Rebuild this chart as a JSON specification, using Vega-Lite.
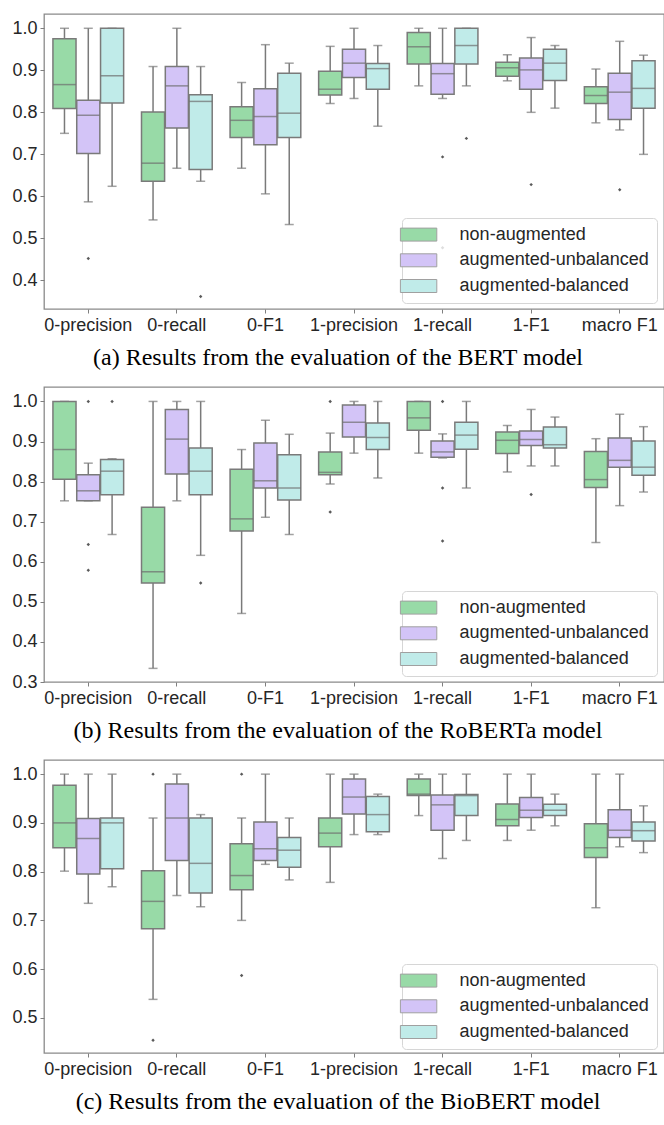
{
  "$schema": "https://vega.github.io/schema/vega-lite/v6.json",
  "padding": {"left": 11, "top": 13, "right": 0, "bottom": 0},
  "spacing": 15,
  "config": {
    "axis": {"labelFont": "Liberation Sans", "labelFontSize": 18, "labelColor": "#262626", "tickColor": "#7f7f7f", "tickSize": 4, "tickWidth": 1, "domain": false, "grid": false, "labelPadding": 3},
    "axisY": {"format": ".1f"},
    "view": {"stroke": "#8a8a8a", "strokeWidth": 1.3},
    "title": {"font": "Liberation Serif", "fontSize": 24, "fontWeight": "normal", "color": "#000000", "orient": "bottom", "offset": 12, "frame": "bounds", "anchor": "middle"}
  },
  "resolve": {"legend": {"fill": "independent"}, "scale": {"y": "independent"}},
  "datasets": {
    "boxes": [
      {"model": "BERT", "metric": "0-precision", "group": "non-augmented", "lo": 0.75, "q1": 0.809, "med": 0.866, "q3": 0.975, "hi": 1.0},
      {"model": "BERT", "metric": "0-precision", "group": "augmented-unbalanced", "lo": 0.587, "q1": 0.702, "med": 0.793, "q3": 0.829, "hi": 1.0},
      {"model": "BERT", "metric": "0-precision", "group": "augmented-balanced", "lo": 0.624, "q1": 0.822, "med": 0.887, "q3": 1.0, "hi": 1.0},
      {"model": "BERT", "metric": "0-recall", "group": "non-augmented", "lo": 0.544, "q1": 0.636, "med": 0.679, "q3": 0.801, "hi": 0.909},
      {"model": "BERT", "metric": "0-recall", "group": "augmented-unbalanced", "lo": 0.667, "q1": 0.763, "med": 0.863, "q3": 0.909, "hi": 1.0},
      {"model": "BERT", "metric": "0-recall", "group": "augmented-balanced", "lo": 0.636, "q1": 0.664, "med": 0.826, "q3": 0.842, "hi": 0.909},
      {"model": "BERT", "metric": "0-F1", "group": "non-augmented", "lo": 0.667, "q1": 0.74, "med": 0.781, "q3": 0.813, "hi": 0.871},
      {"model": "BERT", "metric": "0-F1", "group": "augmented-unbalanced", "lo": 0.606, "q1": 0.723, "med": 0.79, "q3": 0.856, "hi": 0.961},
      {"model": "BERT", "metric": "0-F1", "group": "augmented-balanced", "lo": 0.533, "q1": 0.74, "med": 0.798, "q3": 0.893, "hi": 0.917},
      {"model": "BERT", "metric": "1-precision", "group": "non-augmented", "lo": 0.821, "q1": 0.841, "med": 0.855, "q3": 0.898, "hi": 0.957},
      {"model": "BERT", "metric": "1-precision", "group": "augmented-unbalanced", "lo": 0.833, "q1": 0.883, "med": 0.917, "q3": 0.95, "hi": 1.0},
      {"model": "BERT", "metric": "1-precision", "group": "augmented-balanced", "lo": 0.767, "q1": 0.855, "med": 0.904, "q3": 0.916, "hi": 0.959},
      {"model": "BERT", "metric": "1-recall", "group": "non-augmented", "lo": 0.863, "q1": 0.915, "med": 0.956, "q3": 0.99, "hi": 1.0},
      {"model": "BERT", "metric": "1-recall", "group": "augmented-unbalanced", "lo": 0.833, "q1": 0.843, "med": 0.892, "q3": 0.916, "hi": 1.0},
      {"model": "BERT", "metric": "1-recall", "group": "augmented-balanced", "lo": 0.863, "q1": 0.915, "med": 0.959, "q3": 1.0, "hi": 1.0},
      {"model": "BERT", "metric": "1-F1", "group": "non-augmented", "lo": 0.875, "q1": 0.886, "med": 0.906, "q3": 0.919, "hi": 0.937},
      {"model": "BERT", "metric": "1-F1", "group": "augmented-unbalanced", "lo": 0.8, "q1": 0.855, "med": 0.901, "q3": 0.929, "hi": 0.978},
      {"model": "BERT", "metric": "1-F1", "group": "augmented-balanced", "lo": 0.81, "q1": 0.876, "med": 0.917, "q3": 0.95, "hi": 0.959},
      {"model": "BERT", "metric": "macro F1", "group": "non-augmented", "lo": 0.775, "q1": 0.821, "med": 0.84, "q3": 0.861, "hi": 0.903},
      {"model": "BERT", "metric": "macro F1", "group": "augmented-unbalanced", "lo": 0.758, "q1": 0.783, "med": 0.848, "q3": 0.893, "hi": 0.969},
      {"model": "BERT", "metric": "macro F1", "group": "augmented-balanced", "lo": 0.7, "q1": 0.81, "med": 0.857, "q3": 0.923, "hi": 0.936},

      {"model": "RoBERTa", "metric": "0-precision", "group": "non-augmented", "lo": 0.752, "q1": 0.806, "med": 0.88, "q3": 1.0, "hi": 1.0},
      {"model": "RoBERTa", "metric": "0-precision", "group": "augmented-unbalanced", "lo": 0.752, "q1": 0.752, "med": 0.777, "q3": 0.817, "hi": 0.846},
      {"model": "RoBERTa", "metric": "0-precision", "group": "augmented-balanced", "lo": 0.668, "q1": 0.767, "med": 0.826, "q3": 0.855, "hi": 0.857},
      {"model": "RoBERTa", "metric": "0-recall", "group": "non-augmented", "lo": 0.334, "q1": 0.547, "med": 0.575, "q3": 0.736, "hi": 1.0},
      {"model": "RoBERTa", "metric": "0-recall", "group": "augmented-unbalanced", "lo": 0.752, "q1": 0.819, "med": 0.906, "q3": 0.98, "hi": 1.0},
      {"model": "RoBERTa", "metric": "0-recall", "group": "augmented-balanced", "lo": 0.616, "q1": 0.767, "med": 0.826, "q3": 0.884, "hi": 1.0},
      {"model": "RoBERTa", "metric": "0-F1", "group": "non-augmented", "lo": 0.471, "q1": 0.677, "med": 0.707, "q3": 0.831, "hi": 0.88},
      {"model": "RoBERTa", "metric": "0-F1", "group": "augmented-unbalanced", "lo": 0.711, "q1": 0.784, "med": 0.802, "q3": 0.896, "hi": 0.953},
      {"model": "RoBERTa", "metric": "0-F1", "group": "augmented-balanced", "lo": 0.668, "q1": 0.754, "med": 0.784, "q3": 0.867, "hi": 0.918},
      {"model": "RoBERTa", "metric": "1-precision", "group": "non-augmented", "lo": 0.794, "q1": 0.817, "med": 0.823, "q3": 0.874, "hi": 0.921},
      {"model": "RoBERTa", "metric": "1-precision", "group": "augmented-unbalanced", "lo": 0.871, "q1": 0.911, "med": 0.948, "q3": 0.991, "hi": 1.0},
      {"model": "RoBERTa", "metric": "1-precision", "group": "augmented-balanced", "lo": 0.809, "q1": 0.88, "med": 0.91, "q3": 0.946, "hi": 1.0},
      {"model": "RoBERTa", "metric": "1-recall", "group": "non-augmented", "lo": 0.871, "q1": 0.928, "med": 0.959, "q3": 1.0, "hi": 1.0},
      {"model": "RoBERTa", "metric": "1-recall", "group": "augmented-unbalanced", "lo": 0.859, "q1": 0.861, "med": 0.874, "q3": 0.901, "hi": 0.919},
      {"model": "RoBERTa", "metric": "1-recall", "group": "augmented-balanced", "lo": 0.784, "q1": 0.881, "med": 0.916, "q3": 0.948, "hi": 1.0},
      {"model": "RoBERTa", "metric": "1-F1", "group": "non-augmented", "lo": 0.824, "q1": 0.87, "med": 0.903, "q3": 0.924, "hi": 0.94},
      {"model": "RoBERTa", "metric": "1-F1", "group": "augmented-unbalanced", "lo": 0.839, "q1": 0.89, "med": 0.905, "q3": 0.926, "hi": 0.98},
      {"model": "RoBERTa", "metric": "1-F1", "group": "augmented-balanced", "lo": 0.839, "q1": 0.884, "med": 0.892, "q3": 0.936, "hi": 0.961},
      {"model": "RoBERTa", "metric": "macro F1", "group": "non-augmented", "lo": 0.648, "q1": 0.785, "med": 0.805, "q3": 0.875, "hi": 0.907},
      {"model": "RoBERTa", "metric": "macro F1", "group": "augmented-unbalanced", "lo": 0.74, "q1": 0.836, "med": 0.853, "q3": 0.909, "hi": 0.968},
      {"model": "RoBERTa", "metric": "macro F1", "group": "augmented-balanced", "lo": 0.774, "q1": 0.816, "med": 0.836, "q3": 0.901, "hi": 0.937},

      {"model": "BioBERT", "metric": "0-precision", "group": "non-augmented", "lo": 0.801, "q1": 0.849, "med": 0.9, "q3": 0.977, "hi": 1.0},
      {"model": "BioBERT", "metric": "0-precision", "group": "augmented-unbalanced", "lo": 0.735, "q1": 0.795, "med": 0.868, "q3": 0.909, "hi": 1.0},
      {"model": "BioBERT", "metric": "0-precision", "group": "augmented-balanced", "lo": 0.769, "q1": 0.806, "med": 0.9, "q3": 0.91, "hi": 1.0},
      {"model": "BioBERT", "metric": "0-recall", "group": "non-augmented", "lo": 0.538, "q1": 0.683, "med": 0.739, "q3": 0.802, "hi": 0.91},
      {"model": "BioBERT", "metric": "0-recall", "group": "augmented-unbalanced", "lo": 0.751, "q1": 0.823, "med": 0.91, "q3": 0.98, "hi": 1.0},
      {"model": "BioBERT", "metric": "0-recall", "group": "augmented-balanced", "lo": 0.728, "q1": 0.756, "med": 0.817, "q3": 0.91, "hi": 0.917},
      {"model": "BioBERT", "metric": "0-F1", "group": "non-augmented", "lo": 0.7, "q1": 0.763, "med": 0.792, "q3": 0.857, "hi": 0.91},
      {"model": "BioBERT", "metric": "0-F1", "group": "augmented-unbalanced", "lo": 0.815, "q1": 0.823, "med": 0.847, "q3": 0.902, "hi": 1.0},
      {"model": "BioBERT", "metric": "0-F1", "group": "augmented-balanced", "lo": 0.783, "q1": 0.809, "med": 0.844, "q3": 0.87, "hi": 0.91},
      {"model": "BioBERT", "metric": "1-precision", "group": "non-augmented", "lo": 0.778, "q1": 0.851, "med": 0.879, "q3": 0.91, "hi": 1.0},
      {"model": "BioBERT", "metric": "1-precision", "group": "augmented-unbalanced", "lo": 0.876, "q1": 0.918, "med": 0.953, "q3": 0.99, "hi": 1.0},
      {"model": "BioBERT", "metric": "1-precision", "group": "augmented-balanced", "lo": 0.876, "q1": 0.882, "med": 0.917, "q3": 0.954, "hi": 0.959},
      {"model": "BioBERT", "metric": "1-recall", "group": "non-augmented", "lo": 0.915, "q1": 0.956, "med": 0.959, "q3": 0.99, "hi": 1.0},
      {"model": "BioBERT", "metric": "1-recall", "group": "augmented-unbalanced", "lo": 0.827, "q1": 0.885, "med": 0.937, "q3": 0.957, "hi": 1.0},
      {"model": "BioBERT", "metric": "1-recall", "group": "augmented-balanced", "lo": 0.864, "q1": 0.915, "med": 0.956, "q3": 0.958, "hi": 1.0},
      {"model": "BioBERT", "metric": "1-F1", "group": "non-augmented", "lo": 0.864, "q1": 0.894, "med": 0.907, "q3": 0.939, "hi": 1.0},
      {"model": "BioBERT", "metric": "1-F1", "group": "augmented-unbalanced", "lo": 0.885, "q1": 0.911, "med": 0.926, "q3": 0.952, "hi": 1.0},
      {"model": "BioBERT", "metric": "1-F1", "group": "augmented-balanced", "lo": 0.894, "q1": 0.915, "med": 0.926, "q3": 0.938, "hi": 0.959},
      {"model": "BioBERT", "metric": "macro F1", "group": "non-augmented", "lo": 0.726, "q1": 0.829, "med": 0.849, "q3": 0.898, "hi": 1.0},
      {"model": "BioBERT", "metric": "macro F1", "group": "augmented-unbalanced", "lo": 0.851, "q1": 0.87, "med": 0.885, "q3": 0.927, "hi": 1.0},
      {"model": "BioBERT", "metric": "macro F1", "group": "augmented-balanced", "lo": 0.839, "q1": 0.863, "med": 0.884, "q3": 0.902, "hi": 0.935}
    ],
    "outliers": [
      {"model": "BERT", "metric": "0-precision", "group": "augmented-unbalanced", "value": 0.452},
      {"model": "BERT", "metric": "0-recall", "group": "augmented-balanced", "value": 0.362},
      {"model": "BERT", "metric": "1-recall", "group": "augmented-unbalanced", "value": 0.694},
      {"model": "BERT", "metric": "1-recall", "group": "augmented-unbalanced", "value": 0.478},
      {"model": "BERT", "metric": "1-recall", "group": "augmented-balanced", "value": 0.738},
      {"model": "BERT", "metric": "1-F1", "group": "augmented-unbalanced", "value": 0.628},
      {"model": "BERT", "metric": "macro F1", "group": "augmented-unbalanced", "value": 0.616},
      {"model": "RoBERTa", "metric": "0-precision", "group": "augmented-unbalanced", "value": 1.0},
      {"model": "RoBERTa", "metric": "0-precision", "group": "augmented-unbalanced", "value": 0.643},
      {"model": "RoBERTa", "metric": "0-precision", "group": "augmented-unbalanced", "value": 0.579},
      {"model": "RoBERTa", "metric": "0-precision", "group": "augmented-balanced", "value": 1.0},
      {"model": "RoBERTa", "metric": "0-recall", "group": "augmented-balanced", "value": 0.547},
      {"model": "RoBERTa", "metric": "1-precision", "group": "non-augmented", "value": 1.0},
      {"model": "RoBERTa", "metric": "1-precision", "group": "non-augmented", "value": 0.724},
      {"model": "RoBERTa", "metric": "1-recall", "group": "augmented-unbalanced", "value": 1.0},
      {"model": "RoBERTa", "metric": "1-recall", "group": "augmented-unbalanced", "value": 0.784},
      {"model": "RoBERTa", "metric": "1-recall", "group": "augmented-unbalanced", "value": 0.652},
      {"model": "RoBERTa", "metric": "1-F1", "group": "augmented-unbalanced", "value": 0.768},
      {"model": "BioBERT", "metric": "0-recall", "group": "non-augmented", "value": 1.0},
      {"model": "BioBERT", "metric": "0-recall", "group": "non-augmented", "value": 0.454},
      {"model": "BioBERT", "metric": "0-F1", "group": "non-augmented", "value": 1.0},
      {"model": "BioBERT", "metric": "0-F1", "group": "non-augmented", "value": 0.587}
    ]
  },
  "vconcat": [
    {
      "width": 620, "height": 295,
      "title": {"text": "(a) Results from the evaluation of the BERT model"},
      "layer": [
        {"data": {"name": "boxes"}, "transform": [{"filter": "datum.model === 'BERT'"}],
         "mark": {"type": "rule", "color": "#7a7a7a", "strokeWidth": 1.5},
         "encoding": {
           "x": {"field": "metric", "type": "nominal", "sort": ["0-precision", "0-recall", "0-F1", "1-precision", "1-recall", "1-F1", "macro F1"], "scale": {"paddingInner": 0, "paddingOuter": 0}, "axis": {"labelAngle": 0, "title": null}},
           "xOffset": {"field": "group", "type": "nominal", "sort": ["non-augmented", "augmented-unbalanced", "augmented-balanced"], "scale": {"paddingInner": 0.03, "paddingOuter": 0.375}},
           "y": {"field": "lo", "type": "quantitative", "scale": {"domain": [0.332, 1.034], "nice": false, "zero": false}, "axis": {"title": null, "values": [0.4, 0.5, 0.6, 0.7, 0.8, 0.9, 1.0]}},
           "y2": {"field": "hi"}
         }},
        {"data": {"name": "boxes"}, "transform": [{"filter": "datum.model === 'BERT'"}],
         "mark": {"type": "tick", "color": "#7a7a7a", "size": 9, "thickness": 1.5},
         "encoding": {
           "x": {"field": "metric", "type": "nominal", "sort": ["0-precision", "0-recall", "0-F1", "1-precision", "1-recall", "1-F1", "macro F1"]},
           "xOffset": {"field": "group", "type": "nominal", "sort": ["non-augmented", "augmented-unbalanced", "augmented-balanced"]},
           "y": {"field": "lo", "type": "quantitative"}
         }},
        {"data": {"name": "boxes"}, "transform": [{"filter": "datum.model === 'BERT'"}],
         "mark": {"type": "tick", "color": "#7a7a7a", "size": 9, "thickness": 1.5},
         "encoding": {
           "x": {"field": "metric", "type": "nominal", "sort": ["0-precision", "0-recall", "0-F1", "1-precision", "1-recall", "1-F1", "macro F1"]},
           "xOffset": {"field": "group", "type": "nominal", "sort": ["non-augmented", "augmented-unbalanced", "augmented-balanced"]},
           "y": {"field": "hi", "type": "quantitative"}
         }},
        {"data": {"name": "boxes"}, "transform": [{"filter": "datum.model === 'BERT'"}],
         "mark": {"type": "bar", "stroke": "#7a7a7a", "strokeWidth": 1.5, "opacity": 1},
         "encoding": {
           "x": {"field": "metric", "type": "nominal", "sort": ["0-precision", "0-recall", "0-F1", "1-precision", "1-recall", "1-F1", "macro F1"]},
           "xOffset": {"field": "group", "type": "nominal", "sort": ["non-augmented", "augmented-unbalanced", "augmented-balanced"]},
           "y": {"field": "q1", "type": "quantitative"},
           "y2": {"field": "q3"},
           "fill": {"field": "group", "type": "nominal", "scale": {"domain": ["non-augmented", "augmented-unbalanced", "augmented-balanced"], "range": ["#98daa7", "#d3c4f7", "#c0ebe9"]},
             "legend": {"title": null, "orient": "none", "legendX": 358, "legendY": 204, "symbolType": "M-2.8,-1H2.8V1H-2.8Z", "symbolSize": 169, "symbolStrokeColor": "#a0a0a0", "symbolStrokeWidth": 1, "symbolOpacity": 1, "labelFont": "Liberation Sans", "labelFontSize": 18, "labelColor": "#262626", "labelOffset": 32, "labelLimit": 400, "rowPadding": 7.7, "padding": 7.6, "strokeColor": "#d6d6d6", "fillColor": "rgba(255,255,255,0.8)", "cornerRadius": 4}}
         }},
        {"data": {"name": "boxes"}, "transform": [{"filter": "datum.model === 'BERT'"}],
         "mark": {"type": "tick", "color": "#6e6e6e", "size": 23, "thickness": 1.5},
         "encoding": {
           "x": {"field": "metric", "type": "nominal", "sort": ["0-precision", "0-recall", "0-F1", "1-precision", "1-recall", "1-F1", "macro F1"]},
           "xOffset": {"field": "group", "type": "nominal", "sort": ["non-augmented", "augmented-unbalanced", "augmented-balanced"]},
           "y": {"field": "med", "type": "quantitative"}
         }},
        {"data": {"name": "outliers"}, "transform": [{"filter": "datum.model === 'BERT'"}],
         "mark": {"type": "point", "shape": "diamond", "filled": true, "size": 12, "color": "#5a5a5a", "opacity": 1},
         "encoding": {
           "x": {"field": "metric", "type": "nominal", "sort": ["0-precision", "0-recall", "0-F1", "1-precision", "1-recall", "1-F1", "macro F1"]},
           "xOffset": {"field": "group", "type": "nominal", "sort": ["non-augmented", "augmented-unbalanced", "augmented-balanced"]},
           "y": {"field": "value", "type": "quantitative"}
         }}
      ]
    },
    {
      "width": 620, "height": 295,
      "title": {"text": "(b) Results from the evaluation of the RoBERTa model"},
      "layer": [
        {"data": {"name": "boxes"}, "transform": [{"filter": "datum.model === 'RoBERTa'"}],
         "mark": {"type": "rule", "color": "#7a7a7a", "strokeWidth": 1.5},
         "encoding": {
           "x": {"field": "metric", "type": "nominal", "sort": ["0-precision", "0-recall", "0-F1", "1-precision", "1-recall", "1-F1", "macro F1"], "scale": {"paddingInner": 0, "paddingOuter": 0}, "axis": {"labelAngle": 0, "title": null}},
           "xOffset": {"field": "group", "type": "nominal", "sort": ["non-augmented", "augmented-unbalanced", "augmented-balanced"], "scale": {"paddingInner": 0.03, "paddingOuter": 0.375}},
           "y": {"field": "lo", "type": "quantitative", "scale": {"domain": [0.3, 1.036], "nice": false, "zero": false}, "axis": {"title": null, "values": [0.3, 0.4, 0.5, 0.6, 0.7, 0.8, 0.9, 1.0]}},
           "y2": {"field": "hi"}
         }},
        {"data": {"name": "boxes"}, "transform": [{"filter": "datum.model === 'RoBERTa'"}],
         "mark": {"type": "tick", "color": "#7a7a7a", "size": 9, "thickness": 1.5},
         "encoding": {
           "x": {"field": "metric", "type": "nominal", "sort": ["0-precision", "0-recall", "0-F1", "1-precision", "1-recall", "1-F1", "macro F1"]},
           "xOffset": {"field": "group", "type": "nominal", "sort": ["non-augmented", "augmented-unbalanced", "augmented-balanced"]},
           "y": {"field": "lo", "type": "quantitative"}
         }},
        {"data": {"name": "boxes"}, "transform": [{"filter": "datum.model === 'RoBERTa'"}],
         "mark": {"type": "tick", "color": "#7a7a7a", "size": 9, "thickness": 1.5},
         "encoding": {
           "x": {"field": "metric", "type": "nominal", "sort": ["0-precision", "0-recall", "0-F1", "1-precision", "1-recall", "1-F1", "macro F1"]},
           "xOffset": {"field": "group", "type": "nominal", "sort": ["non-augmented", "augmented-unbalanced", "augmented-balanced"]},
           "y": {"field": "hi", "type": "quantitative"}
         }},
        {"data": {"name": "boxes"}, "transform": [{"filter": "datum.model === 'RoBERTa'"}],
         "mark": {"type": "bar", "stroke": "#7a7a7a", "strokeWidth": 1.5, "opacity": 1},
         "encoding": {
           "x": {"field": "metric", "type": "nominal", "sort": ["0-precision", "0-recall", "0-F1", "1-precision", "1-recall", "1-F1", "macro F1"]},
           "xOffset": {"field": "group", "type": "nominal", "sort": ["non-augmented", "augmented-unbalanced", "augmented-balanced"]},
           "y": {"field": "q1", "type": "quantitative"},
           "y2": {"field": "q3"},
           "fill": {"field": "group", "type": "nominal", "scale": {"domain": ["non-augmented", "augmented-unbalanced", "augmented-balanced"], "range": ["#98daa7", "#d3c4f7", "#c0ebe9"]},
             "legend": {"title": null, "orient": "none", "legendX": 358, "legendY": 204, "symbolType": "M-2.8,-1H2.8V1H-2.8Z", "symbolSize": 169, "symbolStrokeColor": "#a0a0a0", "symbolStrokeWidth": 1, "symbolOpacity": 1, "labelFont": "Liberation Sans", "labelFontSize": 18, "labelColor": "#262626", "labelOffset": 32, "labelLimit": 400, "rowPadding": 7.7, "padding": 7.6, "strokeColor": "#d6d6d6", "fillColor": "rgba(255,255,255,0.8)", "cornerRadius": 4}}
         }},
        {"data": {"name": "boxes"}, "transform": [{"filter": "datum.model === 'RoBERTa'"}],
         "mark": {"type": "tick", "color": "#6e6e6e", "size": 23, "thickness": 1.5},
         "encoding": {
           "x": {"field": "metric", "type": "nominal", "sort": ["0-precision", "0-recall", "0-F1", "1-precision", "1-recall", "1-F1", "macro F1"]},
           "xOffset": {"field": "group", "type": "nominal", "sort": ["non-augmented", "augmented-unbalanced", "augmented-balanced"]},
           "y": {"field": "med", "type": "quantitative"}
         }},
        {"data": {"name": "outliers"}, "transform": [{"filter": "datum.model === 'RoBERTa'"}],
         "mark": {"type": "point", "shape": "diamond", "filled": true, "size": 12, "color": "#5a5a5a", "opacity": 1},
         "encoding": {
           "x": {"field": "metric", "type": "nominal", "sort": ["0-precision", "0-recall", "0-F1", "1-precision", "1-recall", "1-F1", "macro F1"]},
           "xOffset": {"field": "group", "type": "nominal", "sort": ["non-augmented", "augmented-unbalanced", "augmented-balanced"]},
           "y": {"field": "value", "type": "quantitative"}
         }}
      ]
    },
    {
      "width": 620, "height": 293,
      "title": {"text": "(c) Results from the evaluation of the BioBERT model"},
      "layer": [
        {"data": {"name": "boxes"}, "transform": [{"filter": "datum.model === 'BioBERT'"}],
         "mark": {"type": "rule", "color": "#7a7a7a", "strokeWidth": 1.5},
         "encoding": {
           "x": {"field": "metric", "type": "nominal", "sort": ["0-precision", "0-recall", "0-F1", "1-precision", "1-recall", "1-F1", "macro F1"], "scale": {"paddingInner": 0, "paddingOuter": 0}, "axis": {"labelAngle": 0, "title": null}},
           "xOffset": {"field": "group", "type": "nominal", "sort": ["non-augmented", "augmented-unbalanced", "augmented-balanced"], "scale": {"paddingInner": 0.03, "paddingOuter": 0.375}},
           "y": {"field": "lo", "type": "quantitative", "scale": {"domain": [0.428, 1.029], "nice": false, "zero": false}, "axis": {"title": null, "values": [0.5, 0.6, 0.7, 0.8, 0.9, 1.0]}},
           "y2": {"field": "hi"}
         }},
        {"data": {"name": "boxes"}, "transform": [{"filter": "datum.model === 'BioBERT'"}],
         "mark": {"type": "tick", "color": "#7a7a7a", "size": 9, "thickness": 1.5},
         "encoding": {
           "x": {"field": "metric", "type": "nominal", "sort": ["0-precision", "0-recall", "0-F1", "1-precision", "1-recall", "1-F1", "macro F1"]},
           "xOffset": {"field": "group", "type": "nominal", "sort": ["non-augmented", "augmented-unbalanced", "augmented-balanced"]},
           "y": {"field": "lo", "type": "quantitative"}
         }},
        {"data": {"name": "boxes"}, "transform": [{"filter": "datum.model === 'BioBERT'"}],
         "mark": {"type": "tick", "color": "#7a7a7a", "size": 9, "thickness": 1.5},
         "encoding": {
           "x": {"field": "metric", "type": "nominal", "sort": ["0-precision", "0-recall", "0-F1", "1-precision", "1-recall", "1-F1", "macro F1"]},
           "xOffset": {"field": "group", "type": "nominal", "sort": ["non-augmented", "augmented-unbalanced", "augmented-balanced"]},
           "y": {"field": "hi", "type": "quantitative"}
         }},
        {"data": {"name": "boxes"}, "transform": [{"filter": "datum.model === 'BioBERT'"}],
         "mark": {"type": "bar", "stroke": "#7a7a7a", "strokeWidth": 1.5, "opacity": 1},
         "encoding": {
           "x": {"field": "metric", "type": "nominal", "sort": ["0-precision", "0-recall", "0-F1", "1-precision", "1-recall", "1-F1", "macro F1"]},
           "xOffset": {"field": "group", "type": "nominal", "sort": ["non-augmented", "augmented-unbalanced", "augmented-balanced"]},
           "y": {"field": "q1", "type": "quantitative"},
           "y2": {"field": "q3"},
           "fill": {"field": "group", "type": "nominal", "scale": {"domain": ["non-augmented", "augmented-unbalanced", "augmented-balanced"], "range": ["#98daa7", "#d3c4f7", "#c0ebe9"]},
             "legend": {"title": null, "orient": "none", "legendX": 358, "legendY": 204, "symbolType": "M-2.8,-1H2.8V1H-2.8Z", "symbolSize": 169, "symbolStrokeColor": "#a0a0a0", "symbolStrokeWidth": 1, "symbolOpacity": 1, "labelFont": "Liberation Sans", "labelFontSize": 18, "labelColor": "#262626", "labelOffset": 32, "labelLimit": 400, "rowPadding": 7.7, "padding": 7.6, "strokeColor": "#d6d6d6", "fillColor": "rgba(255,255,255,0.8)", "cornerRadius": 4}}
         }},
        {"data": {"name": "boxes"}, "transform": [{"filter": "datum.model === 'BioBERT'"}],
         "mark": {"type": "tick", "color": "#6e6e6e", "size": 23, "thickness": 1.5},
         "encoding": {
           "x": {"field": "metric", "type": "nominal", "sort": ["0-precision", "0-recall", "0-F1", "1-precision", "1-recall", "1-F1", "macro F1"]},
           "xOffset": {"field": "group", "type": "nominal", "sort": ["non-augmented", "augmented-unbalanced", "augmented-balanced"]},
           "y": {"field": "med", "type": "quantitative"}
         }},
        {"data": {"name": "outliers"}, "transform": [{"filter": "datum.model === 'BioBERT'"}],
         "mark": {"type": "point", "shape": "diamond", "filled": true, "size": 12, "color": "#5a5a5a", "opacity": 1},
         "encoding": {
           "x": {"field": "metric", "type": "nominal", "sort": ["0-precision", "0-recall", "0-F1", "1-precision", "1-recall", "1-F1", "macro F1"]},
           "xOffset": {"field": "group", "type": "nominal", "sort": ["non-augmented", "augmented-unbalanced", "augmented-balanced"]},
           "y": {"field": "value", "type": "quantitative"}
         }}
      ]
    }
  ]
}
